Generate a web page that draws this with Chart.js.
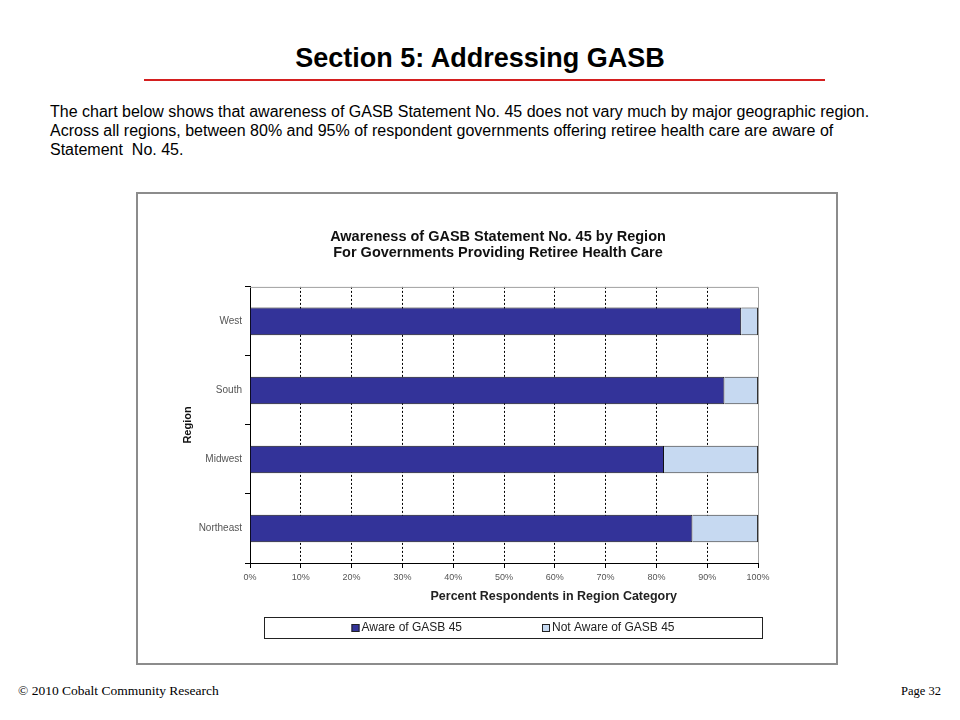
<!DOCTYPE html>
<html lang="en">
<head>
    <meta charset="UTF-8">
    <title>Section 5: Addressing GASB</title>
    <script src="https://cdn.jsdelivr.net/npm/chart.js@4.4.4/dist/chart.umd.min.js"></script>
    <style>
        body {
            margin: 0;
            width: 960px;
            height: 720px;
            position: relative;
            background: #fff;
            font-family: "Liberation Sans", Arial, sans-serif;
            overflow: hidden;
        }
        #page-title {
            position: absolute;
            left: 0;
            width: 960px;
            top: 43px;
            text-align: center;
            font-family: "Liberation Sans Narrow", "Arial Narrow", "Liberation Sans", sans-serif;
            font-weight: bold;
            font-size: 27px;
            color: #000;
        }
        #title-rule {
            position: absolute;
            left: 144px;
            width: 681px;
            top: 79px;
            height: 2px;
            background: #d41f1f;
        }
        #intro {
            position: absolute;
            left: 50px;
            top: 102px;
            font-size: 16px;
            line-height: 19px;
            color: #000;
        }
        #frame {
            position: absolute;
            left: 136px;
            top: 192px;
            width: 702px;
            height: 473px;
            box-sizing: border-box;
            border: 2px solid #8c8c8c;
        }
        #chart {
            position: absolute;
            left: 150px;
            top: 195px;
        }
        .footer {
            position: absolute;
            top: 684px;
            font-family: "Liberation Serif", "DejaVu Serif", serif;
            font-size: 12.5px;
            color: #000;
        }
        #error-message {
            display: none;
            color: red;
        }
    </style>
</head>
<body>
    <div id="page-title">Section 5: Addressing GASB</div>
    <div id="title-rule"></div>
    <div id="intro">The chart below shows that awareness of GASB Statement No. 45 does not vary much by major geographic region.<br>Across all regions, between 80% and 95% of respondent governments offering retiree health care are aware of<br>Statement&nbsp; No. 45.</div>
    <div id="frame"></div>
    <canvas id="chart" width="696" height="468" style="width:696px;height:468px"></canvas>
    <div class="footer" style="left:18px;font-size:13.5px;top:683px">&copy; 2010 Cobalt Community Research</div>
    <div class="footer" style="right:19px">Page 32</div>
    <div id="error-message">Error: Unable to load chart.</div>

    <script>
        // Data
        const regions = ['West', 'South', 'Midwest', 'Northeast'];
        const awarePct = [96.7, 93.4, 81.5, 87.1];
        const notAwarePct = [3.3, 6.6, 18.5, 12.9];
        const seriesNames = ['Aware of GASB 45', 'Not Aware of GASB 45'];
        const xTicks = [0, 10, 20, 30, 40, 50, 60, 70, 80, 90, 100];

        const chartTitle = ['Awareness of GASB Statement No. 45 by Region', 'For Governments Providing Retiree Health Care'];
        const xTitle = 'Percent Respondents in Region Category';
        const yTitle = 'Region';

        // grey frame on top/right of plot, x axis title and boxed legend
        const decorations = {
            id: 'decorations',
            afterDraw(chart) {
                const ctx = chart.ctx;
                const a = chart.chartArea;
                ctx.save();

                ctx.strokeStyle = '#a0a0a0';
                ctx.lineWidth = 1;
                ctx.beginPath();
                ctx.moveTo(a.left, a.top + 0.5);
                ctx.lineTo(a.right + 0.5, a.top + 0.5);
                ctx.lineTo(a.right + 0.5, a.bottom);
                ctx.stroke();

                // axis title
                ctx.fillStyle = '#222';
                ctx.font = 'bold 12.5px "Liberation Sans", Arial, sans-serif';
                ctx.textAlign = 'center';
                ctx.textBaseline = 'middle';
                ctx.fillText(xTitle, a.left + (a.right - a.left) * 0.598, a.bottom + 34);

                // legend box
                const boxL = a.left + 14, boxR = a.right + 4;
                const boxT = a.bottom + 54, boxH = 21;
                ctx.strokeStyle = '#222';
                ctx.lineWidth = 1;
                ctx.strokeRect(boxL + 0.5, boxT + 0.5, boxR - boxL, boxH);

                ctx.font = '12px "Liberation Sans", Arial, sans-serif';
                ctx.textAlign = 'left';
                const gap = 80;
                const items = chart.data.datasets.map(ds => ({ text: ds.label, color: ds.backgroundColor, w: 10 + ctx.measureText(ds.label).width }));
                const total = items.reduce((s, it) => s + it.w, 0) + gap * (items.length - 1);
                let x = (boxL + boxR) / 2 - total / 2;
                const cy = boxT + boxH / 2 + 0.5;
                items.forEach(it => {
                    ctx.fillStyle = it.color;
                    ctx.fillRect(x, cy - 4, 8, 8);
                    ctx.strokeStyle = '#222';
                    ctx.strokeRect(x + 0.5, cy - 3.5, 7, 7);
                    ctx.fillStyle = '#222';
                    ctx.fillText(it.text, x + 10, cy);
                    x += it.w + gap;
                });
                ctx.restore();
            }
        };

        document.addEventListener('DOMContentLoaded', function() {
            if (typeof Chart === 'undefined') {
                document.getElementById('error-message').style.display = 'block';
                return;
            }
            Chart.defaults.font.family = '"Liberation Sans", Arial, sans-serif';

            new Chart(document.getElementById('chart'), {
                type: 'bar',
                data: {
                    labels: regions,
                    datasets: [
                        {
                            label: seriesNames[0],
                            data: awarePct,
                            backgroundColor: '#333399',
                            borderColor: '#111',
                            borderWidth: 1,
                            barPercentage: 0.4,
                            categoryPercentage: 1
                        },
                        {
                            label: seriesNames[1],
                            data: notAwarePct,
                            backgroundColor: '#c6d9f1',
                            borderColor: '#333',
                            borderWidth: 1,
                            barPercentage: 0.4,
                            categoryPercentage: 1
                        }
                    ]
                },
                options: {
                    indexAxis: 'y',
                    responsive: false,
                    animation: false,
                    layout: { padding: { top: 0, right: 0, bottom: 55, left: 0 } },
                    plugins: {
                        legend: { display: false },
                        tooltip: { enabled: false },
                        title: {
                            display: true,
                            text: chartTitle,
                            color: '#111',
                            font: { size: 14.5, weight: 'bold', lineHeight: 1.1 },
                            padding: { top: 34.5, bottom: 25.5 }
                        }
                    },
                    scales: {
                        x: {
                            stacked: true,
                            min: 0,
                            max: 100,
                            afterBuildTicks: scale => { scale.ticks = xTicks.map(v => ({ value: v })); },
                            afterFit: scale => { scale.height = 45; },
                            ticks: {
                                autoSkip: false,
                                maxRotation: 0,
                                padding: 4,
                                color: '#555',
                                font: { size: 9 },
                                callback: v => v + '%'
                            },
                            grid: {
                                color: ctx => (ctx.tick && ctx.tick.value === 100) ? 'rgba(0,0,0,0)' : '#000',
                                tickColor: '#000',
                                tickLength: 5
                            },
                            border: { color: '#000', dash: [2, 2] }
                        },
                        y: {
                            stacked: true,
                            afterFit: scale => { scale.width = 100; },
                            ticks: { color: '#555', font: { size: 10 }, padding: 3 },
                            grid: {
                                drawOnChartArea: false,
                                offset: true,
                                color: '#000',
                                tickLength: 5
                            },
                            border: { color: '#000' },
                            title: {
                                display: true,
                                text: yTitle,
                                color: '#111',
                                font: { size: 11, weight: 'bold' },
                                padding: { top: 31, bottom: 0 }
                            }
                        },
                        // empty right-hand axis that keeps the white margin right of the plot
                        yRight: {
                            type: 'category',
                            position: 'right',
                            afterFit: scale => { scale.width = 88; },
                            ticks: { display: false },
                            grid: { display: false },
                            border: { display: false }
                        }
                    }
                },
                plugins: [decorations]
            });
        });
    </script>
</body>
</html>
